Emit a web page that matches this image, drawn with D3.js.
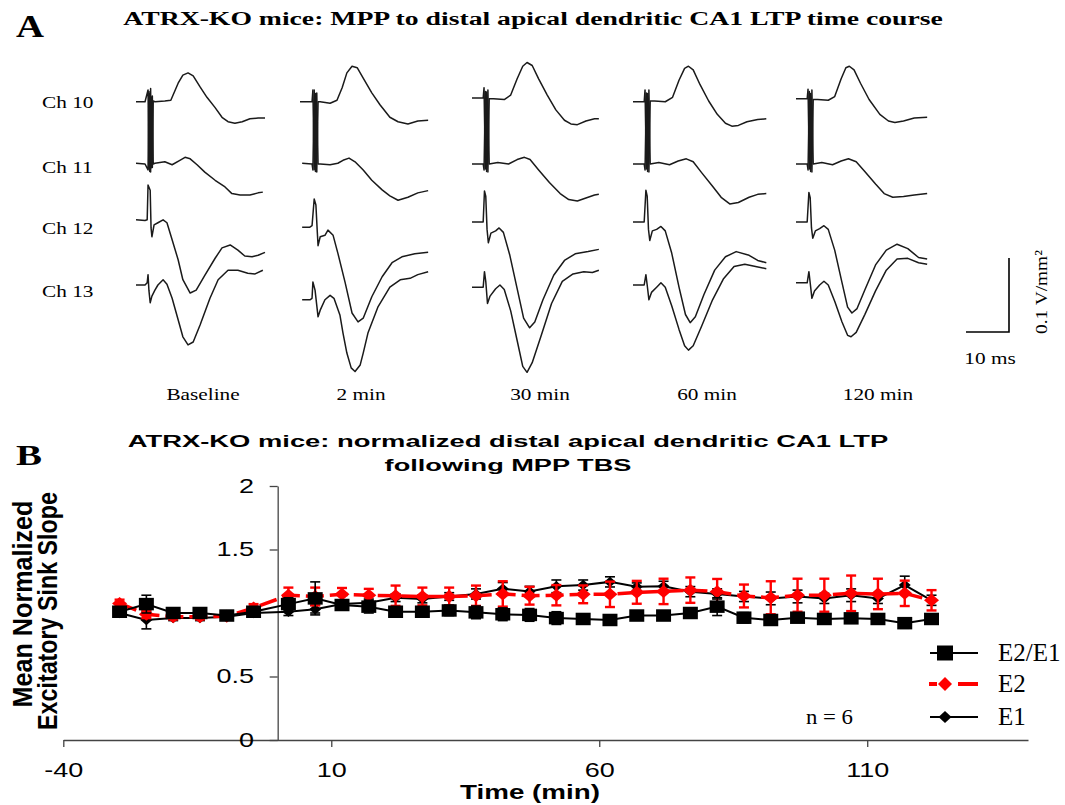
<!DOCTYPE html>
<html>
<head>
<meta charset="utf-8">
<script src="https://cdn.jsdelivr.net/npm/d3@7"></script>
<style>
  body { margin: 0; background: #fff; }
  svg { display: block; }
</style>
</head>
<body>
<div id="chart"></div>
<script>
// ---------- Panel A: field potential traces, [ms, mV/mm2] ----------
var colLabels = ["Baseline", "2 min", "30 min", "60 min", "120 min"];
var chLabels = ["Ch 10", "Ch 11", "Ch 12", "Ch 13"];

var traceBaseline = [
    [[0,-1],[2.1,-1],[2.8,15],[3.0,-92],[3.2,10],[3.4,-96],[3.6,5],[3.8,-90],[4.0,0],[4.4,-1],[6.7,0],[8.1,1],[9.8,24],[10.9,35],[12.1,38],[13.3,34],[14.9,19],[16.5,5],[18.4,-9],[20,-22],[21.4,-28],[23,-30],[24.7,-28],[26.5,-24],[28.4,-23],[30,-23]],
    [[0,1],[2.1,0],[2.8,-8],[3.0,98],[3.2,-10],[3.4,102],[3.6,-5],[3.8,92],[4.0,0],[4.4,1],[6.7,3],[8.4,-1],[10.2,5],[11.4,9],[12.6,7],[14.2,-1],[16,-11],[18.4,-22],[20.7,-31],[22.3,-40],[24.2,-42],[26.5,-42],[28.4,-39],[29.5,-38]],
    [[0,3],[2.1,2],[2.6,3],[2.8,50],[3.3,43],[3.5,-8],[3.7,-20],[4.2,-4],[5.1,-1],[6.3,3],[7.2,-1],[8.4,-24],[9.8,-51],[10.9,-78],[12.6,-96],[14,-92],[16,-72],[18.4,-49],[20,-35],[21.9,-31],[23.7,-38],[25.3,-46],[27,-47],[28.4,-45],[30,-41]],
    [[0,0],[2.1,0],[2.6,3],[2.8,14],[3.0,-7],[3.3,-24],[3.7,-15],[4.4,-7],[5.1,0],[6.3,7],[7.2,1],[8.4,-18],[9.8,-47],[10.9,-70],[12.1,-81],[13.3,-77],[14.9,-54],[17.2,-18],[19.1,7],[21.4,20],[23.7,20],[26,16],[27.7,15],[29.5,20]]
];
var trace2min = [
    [[0,-1],[2.8,-1],[3.0,15],[3.3,-93],[3.6,10],[3.9,-96],[4.2,-1],[4.7,-1],[7,-3],[8.6,1],[9.8,18],[10.9,38],[12.1,47],[13.3,45],[14.7,31],[16.7,11],[18.6,-5],[20.9,-22],[22.8,-28],[25.1,-31],[27.4,-27],[29.8,-26]],
    [[0.5,1],[2.8,0],[3.0,-8],[3.3,100],[3.6,-10],[3.9,96],[4.2,0],[4.7,0],[7,-1],[8.8,1],[10,5],[11.4,8],[12.8,3],[14.7,-8],[16.7,-22],[19.1,-35],[20.9,-43],[22.8,-49],[25.1,-45],[27.4,-39],[29.8,-36]],
    [[0.5,-7],[2.3,-7],[2.8,-5],[3.3,31],[3.7,23],[4,-11],[4.2,-32],[4.7,-20],[5.8,-18],[6.5,-11],[7.7,-18],[8.8,-42],[10.5,-82],[12.1,-123],[13.5,-135],[14.7,-130],[16.7,-101],[19.1,-74],[21.4,-55],[23.7,-47],[26.7,-43],[29.8,-41]],
    [[0.5,-20],[2.3,-20],[2.8,-18],[3.0,4],[3.5,-7],[4.2,-43],[4.7,-34],[5.8,-20],[7,-14],[7.9,-18],[9.3,-41],[10,-65],[10.9,-92],[11.9,-112],[12.8,-117],[14,-108],[14.7,-92],[15.8,-65],[18.1,-30],[20.9,-3],[23.3,7],[25.6,9],[27.4,14],[29.8,18]]
];
var trace30min = [
    [[0,4],[2.6,4],[2.8,18],[3.1,-92],[3.4,12],[3.7,-96],[4.0,3],[5,3],[7.5,2],[9,8],[10.5,30],[11.8,47],[12.8,52],[14,48],[15.5,30],[17.5,8],[19.5,-12],[21.5,-26],[23,-31],[24.5,-32],[26.5,-27],[28.5,-24],[29.5,-24]],
    [[0,0],[2.6,0],[2.8,-8],[3.1,98],[3.4,-10],[3.7,100],[4.0,0],[6,2],[8.5,0],[10.5,6],[12.2,9],[13.5,6],[15.5,-8],[18,-25],[20.5,-40],[22.5,-48],[24.5,-50],[26.5,-46],[28.5,-42],[29.5,-41]],
    [[0,0],[2.6,0],[2.9,42],[3.2,35],[3.5,-10],[3.8,-28],[4.4,-15],[5.5,-12],[6.3,-8],[7.3,-14],[8.8,-45],[10.5,-90],[12,-130],[13.4,-143],[14.6,-135],[16.5,-105],[19,-72],[21.5,-52],[24,-43],[27,-40],[29.5,-37]],
    [[0,-3],[2.6,-3],[2.9,18],[3.2,5],[3.6,-25],[4.2,-15],[5.5,-5],[6.5,0],[7.5,-6],[9,-35],[10.5,-75],[11.8,-110],[12.8,-118],[14,-105],[16,-70],[18.5,-25],[21,5],[23.5,15],[26,18],[28,17],[29.5,20]]
];
var trace60min = [
    [[0,-1],[2.6,-1],[2.8,15],[3.1,-92],[3.4,10],[3.7,-96],[4.0,0],[5,0],[7.5,-1],[9.2,5],[10.7,28],[12,44],[12.9,47],[14,42],[15.6,22],[17.6,0],[19.6,-18],[21.5,-30],[23,-34],[24.5,-33],[26.5,-28],[29,-25],[31,-24]],
    [[0,0],[2.6,0],[2.8,-8],[3.1,96],[3.4,-10],[3.7,100],[4.0,0],[6,2],[8.5,-1],[10.5,4],[12.4,7],[14,3],[16,-12],[18.5,-30],[20.5,-45],[22.5,-54],[24.5,-52],[27,-45],[29,-41],[31,-40]],
    [[0,0],[2.6,0],[3.0,43],[3.3,35],[3.6,-10],[3.9,-25],[4.5,-12],[5.5,-10],[6.5,-6],[7.5,-12],[9,-42],[10.7,-88],[12.2,-125],[13.3,-136],[14.5,-128],[16.5,-98],[19,-65],[21.5,-47],[24,-40],[27,-45],[29,-52],[31,-55]],
    [[0,0],[2.6,0],[3.0,14],[3.3,0],[3.7,-20],[4.3,-10],[5.5,-3],[6.5,3],[7.5,-3],[9,-28],[10.7,-60],[12,-82],[12.9,-88],[14,-82],[16,-55],[18.5,-20],[21,8],[23.5,25],[26,28],[28.5,25],[31,22]]
];
var trace120min = [
    [[0,3],[2.6,3],[2.8,16],[3.1,-92],[3.4,10],[3.7,-96],[4.0,2],[5,2],[7.5,1],[9,6],[10.5,30],[11.6,45],[12.4,47],[13.5,42],[15,24],[17,2],[19.5,-18],[21.5,-27],[23,-29],[25,-27],[27.5,-23],[30.5,-22]],
    [[0,0],[2.6,0],[2.8,-8],[3.1,98],[3.4,-10],[3.7,100],[4.0,0],[6,2],[8.5,-1],[10.5,4],[12.2,7],[14,3],[16,-10],[18.5,-27],[20.5,-40],[22.5,-45],[25,-44],[27.5,-42],[30.5,-40]],
    [[0,0],[2.6,0],[3.0,40],[3.3,33],[3.6,-8],[3.9,-22],[4.5,-12],[5.5,-9],[6.5,-5],[7.5,-10],[9,-38],[10.7,-82],[12,-115],[13,-123],[14.2,-117],[16,-92],[18.5,-58],[21,-38],[23.5,-30],[26,-36],[28.5,-48],[30.5,-50]],
    [[0,3],[2.6,3],[3.0,18],[3.3,3],[3.7,-18],[4.3,-8],[5.5,0],[6.5,5],[7.5,0],[9,-22],[10.7,-50],[12,-68],[12.8,-70],[14,-64],[16,-40],[18.5,-8],[21,20],[23.5,35],[26,36],[28.5,30],[30.5,28]]
];
var allTraces = [traceBaseline, trace2min, trace30min, trace60min, trace120min];

// scale bar values
var scaleBarMs = 10;
var scaleBarAmp = 100; // mV/mm2 = 0.1 V/mm2

// ---------- Panel B: normalized sink slope ----------
var times = [-29.5,-24.5,-19.5,-14.5,-9.5,-4.5,2,7,12,17,22,27,32,37,42,47,52,57,62,67,72,77,82,87,92,97,102,107,112,117,122];
var ratioMean = [1.01,1.07,1.00,1.00,0.98,1.01,1.07,1.115,1.063,1.05,1.01,1.01,1.02,1.005,0.99,0.985,0.96,0.953,0.945,0.98,0.98,1.0,1.05,0.963,0.945,0.963,0.953,0.958,0.953,0.92,0.953];
var ratioSE = [0.02,0.07,0.02,0.02,0.02,0.03,0.05,0.13,0.04,0.05,0.03,0.03,0.04,0.05,0.05,0.05,0.05,0.04,0.04,0.03,0.03,0.03,0.07,0.04,0.03,0.03,0.03,0.03,0.03,0.04,0.03];
var e2Mean = [1.075,0.99,0.97,0.97,0.975,1.04,1.14,1.13,1.147,1.14,1.136,1.13,1.13,1.136,1.15,1.136,1.14,1.147,1.147,1.163,1.17,1.18,1.168,1.134,1.12,1.14,1.14,1.155,1.15,1.155,1.1];
var e2SE = [0.03,0.03,0.02,0.02,0.02,0.03,0.06,0.07,0.05,0.05,0.08,0.07,0.07,0.08,0.1,0.07,0.08,0.07,0.1,0.09,0.1,0.1,0.1,0.09,0.13,0.13,0.13,0.14,0.12,0.1,0.08];
var e1Mean = [1.0,0.945,0.96,0.96,0.97,1.0,1.01,1.03,1.07,1.08,1.12,1.11,1.13,1.15,1.19,1.17,1.21,1.22,1.245,1.207,1.21,1.168,1.15,1.13,1.115,1.13,1.115,1.14,1.115,1.22,1.1];
var e1SE = [0.02,0.07,0.02,0.02,0.02,0.02,0.03,0.03,0.03,0.03,0.03,0.03,0.03,0.04,0.05,0.04,0.05,0.04,0.04,0.03,0.04,0.04,0.04,0.04,0.05,0.05,0.04,0.05,0.04,0.07,0.04];
var xTicks = [-40, 10, 60, 110];
var yTicks = [0, 0.5, 1.5, 2];
var seriesNames = ["E2/E1", "E2", "E1"];

var width = 1065, height = 805;
var svg = d3.select("#chart").append("svg")
    .attr("width", width)
    .attr("height", height);

var serif = "'Liberation Serif', 'Times New Roman', serif";
var sans = "'Liberation Sans', Arial, sans-serif";

// text helper; w = target width (stretch), sx = horizontal stretch factor
function txt(g, s, x, y, o) {
    var t = g.append("text")
        .attr("text-anchor", o.anchor || "start")
        .style("font-family", o.family || serif)
        .style("font-size", o.size + "px")
        .style("font-weight", o.bold ? "bold" : "normal")
        .attr("fill", "#000")
        .text(s);
    var sx = o.sx || 1;
    if (o.w) sx = o.w / t.node().getComputedTextLength();
    var tr = "translate(" + x + "," + y + ")" + (o.rotate ? " rotate(-90)" : "") +
        " scale(" + sx + "," + (o.sy || 1) + ")";
    t.attr("transform", tr);
    return t;
}

// ===== Panel A =====
var gA = svg.append("g");
txt(gA, "A", 16, 37, {size: 31, bold: true, w: 28});
txt(gA, "ATRX-KO mice: MPP to distal apical dendritic CA1 LTP time course", 533, 25,
    {size: 19, bold: true, anchor: "middle", w: 820});

var colX = [136, 300, 472, 633, 796];
var rowY = [101, 164, 222, 285];
var colLabelX = [203, 361, 540, 707, 878];

var tScale = d3.scaleLinear().domain([0, 10]).range([0, 43]);
var aScale = d3.scaleLinear().domain([0, 100]).range([0, -74]);

chLabels.forEach(function (c, i) {
    txt(gA, c, 42, rowY[i] + 7 + (i === 1 ? 2 : 0) + (i >= 2 ? 5 : 0), {size: 16, sx: 1.33});
});

var traceLine = d3.line()
    .x(function (d) { return tScale(d[0]); })
    .y(function (d) { return aScale(d[1]); });

allTraces.forEach(function (col, ci) {
    var gc = gA.append("g").attr("transform", "translate(" + colX[ci] + ",0)");
    col.forEach(function (tr, ri) {
        gc.append("path")
            .datum(tr)
            .attr("transform", "translate(0," + rowY[ri] + ")")
            .attr("d", traceLine)
            .attr("fill", "none")
            .attr("stroke", "#1a1a1a")
            .attr("stroke-width", 1.5)
            .attr("stroke-linejoin", "round");
    });
    txt(gA, colLabels[ci], colLabelX[ci], 400, {size: 16, anchor: "middle", sx: 1.33});
});

// scale bar
var sbX = 1009, sbY = 332;
gA.append("path")
    .attr("d", "M" + (sbX - tScale(scaleBarMs)) + "," + sbY + "H" + sbX + "V" + (sbY + aScale(scaleBarAmp)))
    .attr("fill", "none").attr("stroke", "#000").attr("stroke-width", 1.6);
txt(gA, "10 ms", 990, 364, {size: 16, anchor: "middle", sx: 1.33});
txt(gA, "0.1 V/mm\u00B2", 1047, 292, {size: 17, anchor: "middle", rotate: true, w: 84});

// ===== Panel B =====
var gB = svg.append("g");
txt(gB, "B", 16, 465, {size: 30, bold: true, w: 26});
txt(gB, "ATRX-KO mice: normalized distal apical dendritic CA1 LTP", 508, 447,
    {size: 17, bold: true, anchor: "middle", family: sans, w: 761});
txt(gB, "following MPP TBS", 508, 471,
    {size: 17, bold: true, anchor: "middle", family: sans, w: 247});
txt(gB, "Mean Normalized", 32, 604, {size: 25, bold: true, anchor: "middle", family: sans, rotate: true, w: 207, sy: 1.12});
txt(gB, "Excitatory Sink Slope", 57, 611, {size: 25, bold: true, anchor: "middle", family: sans, rotate: true, w: 238, sy: 1.12});

var x = d3.scaleLinear().domain([-40, 140]).range([63.3, 1028]);
var y = d3.scaleLinear().domain([0, 2]).range([740, 486]);

var xAxis = d3.axisBottom(x).tickValues(xTicks).tickSize(7).tickSizeOuter(0)
    .tickFormat(function (d) { return String(d); });
var yAxis = d3.axisLeft(y).tickValues(yTicks).tickSize(8).tickSizeOuter(0)
    .tickFormat(function (d) { return String(d); });

var gx = gB.append("g").attr("transform", "translate(0," + y(0) + ")").call(xAxis);
var gy = gB.append("g").attr("transform", "translate(" + x(0) + ",0)").call(yAxis);
[gx, gy].forEach(function (g) {
    g.select(".domain").attr("stroke", "#444").attr("stroke-width", 1.3);
    g.selectAll(".tick line").attr("stroke", "#444").attr("stroke-width", 1.3);
    g.selectAll(".tick text")
        .style("font-family", sans).style("font-size", "20px").attr("fill", "#000");
});
gx.selectAll(".tick text").attr("y", 23).attr("x", 0).attr("transform", "scale(1.35,1)");
gy.selectAll(".tick text").attr("x", -17.5).attr("transform", "scale(1.35,1)");

txt(gB, "Time (min)", 530, 799, {size: 21, bold: true, anchor: "middle", family: sans, w: 140});

// series
function rows(m, se) {
    return times.map(function (t, i) { return {t: t, v: m[i], se: se[i]}; });
}
var seriesData = [rows(ratioMean, ratioSE), rows(e2Mean, e2SE), rows(e1Mean, e1SE)];
var styles = [
    {color: "#000", lw: 2, dash: null, shape: "square", w: 15, h: 12.5, cap: 10, elw: 1.6},
    {color: "#ff0000", lw: 3.5, dash: "18,6", shape: "diamond", w: 15, h: 13, cap: 10, elw: 2.4},
    {color: "#000", lw: 2, dash: null, shape: "diamond", w: 12, h: 10.5, cap: 10, elw: 1.6}
];

var line = d3.line()
    .x(function (d) { return x(d.t); })
    .y(function (d) { return y(d.v); });

function markerPath(s) {
    if (s.shape === "square")
        return "M" + (-s.w / 2) + "," + (-s.h / 2) + "h" + s.w + "v" + s.h + "h" + (-s.w) + "Z";
    return "M0," + (-s.h / 2) + "L" + (s.w / 2) + ",0L0," + (s.h / 2) + "L" + (-s.w / 2) + ",0Z";
}

// draw order: E1, E2, E2/E1
[2, 1, 0].forEach(function (k) {
    var s = styles[k], data = seriesData[k];
    var g = gB.append("g");
    g.append("path").datum(data)
        .attr("d", line)
        .attr("fill", "none")
        .attr("stroke", s.color)
        .attr("stroke-width", s.lw)
        .attr("stroke-dasharray", s.dash);
    var eb = g.selectAll(".eb").data(data).enter().append("g")
        .attr("transform", function (d) { return "translate(" + x(d.t) + ",0)"; });
    eb.append("line")
        .attr("y1", function (d) { return y(d.v + d.se); })
        .attr("y2", function (d) { return y(d.v - d.se); })
        .attr("stroke", s.color).attr("stroke-width", s.elw);
    [1, -1].forEach(function (sg) {
        eb.append("line")
            .attr("x1", -s.cap / 2).attr("x2", s.cap / 2)
            .attr("y1", function (d) { return y(d.v + sg * d.se); })
            .attr("y2", function (d) { return y(d.v + sg * d.se); })
            .attr("stroke", s.color).attr("stroke-width", s.elw);
    });
    g.selectAll(".mk").data(data).enter().append("path")
        .attr("d", markerPath(s))
        .attr("transform", function (d) { return "translate(" + x(d.t) + "," + y(d.v) + ")"; })
        .attr("fill", s.color);
});

// legend
var legY = [653, 684, 717];
var legG = gB.append("g");
var legMarks = [{w: 16, h: 15}, {w: 14, h: 14}, {w: 13, h: 12}];
styles.forEach(function (s, i) {
    var segs = i === 1 ? [[929, 937], [958, 978]] : [[930, 978]];
    segs.forEach(function (sg) {
        legG.append("line")
            .attr("x1", sg[0]).attr("x2", sg[1])
            .attr("y1", legY[i]).attr("y2", legY[i])
            .attr("stroke", s.color).attr("stroke-width", i === 1 ? 4 : s.lw);
    });
    var ms = {shape: s.shape, w: legMarks[i].w, h: legMarks[i].h};
    legG.append("path").attr("d", markerPath(ms))
        .attr("transform", "translate(945," + legY[i] + ")")
        .attr("fill", s.color);
    txt(legG, seriesNames[i], 998, legY[i] + 8, {size: 25});
});
txt(gB, "n = 6", 806, 724, {size: 21, w: 47});
</script>
</body>
</html>
